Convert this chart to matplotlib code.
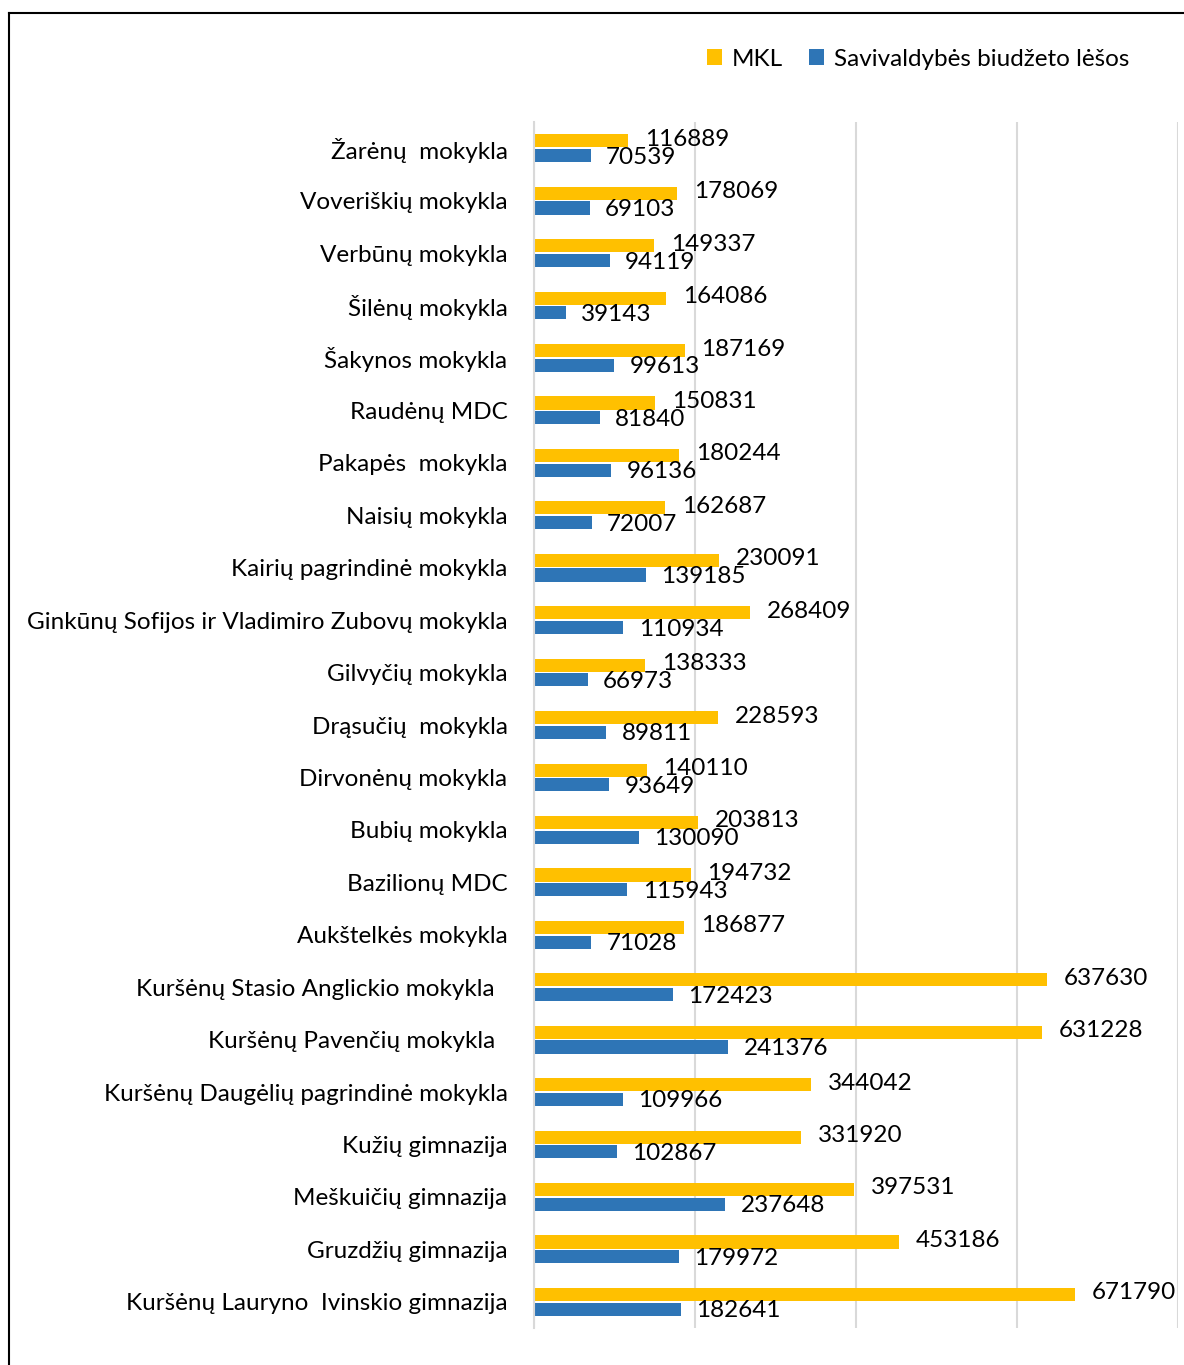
import numpy as np
import matplotlib.pyplot as plt
from matplotlib.lines import Line2D

plt.rcParams['font.family'] = ['Lato', 'DejaVu Sans']

schools = [
    "Žarėnų  mokykla", "Voveriškių mokykla", "Verbūnų mokykla", "Šilėnų mokykla",
    "Šakynos mokykla", "Raudėnų MDC", "Pakapės  mokykla", "Naisių mokykla",
    "Kairių pagrindinė mokykla", "Ginkūnų Sofijos ir Vladimiro Zubovų mokykla",
    "Gilvyčių mokykla", "Drąsučių  mokykla", "Dirvonėnų mokykla", "Bubių mokykla",
    "Bazilionų MDC", "Aukštelkės mokykla", "Kuršėnų Stasio Anglickio mokykla  ",
    "Kuršėnų Pavenčių mokykla  ", "Kuršėnų Daugėlių pagrindinė mokykla",
    "Kužių gimnazija", "Meškuičių gimnazija", "Gruzdžių gimnazija",
    "Kuršėnų Lauryno  Ivinskio gimnazija",
]
mkl = [116889, 178069, 149337, 164086, 187169, 150831, 180244, 162687, 230091, 268409,
       138333, 228593, 140110, 203813, 194732, 186877, 637630, 631228, 344042, 331920,
       397531, 453186, 671790]
budget = [70539, 69103, 94119, 39143, 99613, 81840, 96136, 72007, 139185, 110934,
          66973, 89811, 93649, 130090, 115943, 71028, 172423, 241376, 109966, 102867,
          237648, 179972, 182641]

yellow = '#FFC000'
blue = '#2E75B6'
fs = 17.5

fig = plt.figure(figsize=(11.84, 13.65), dpi=100)
ax = fig.add_axes([534 / 1184, 1 - 1328 / 1365, (1178 - 534) / 1184, (1328 - 122) / 1365])

y = np.arange(len(schools))[::-1]
h = 0.25
ax.barh(y + 0.14, mkl, height=h, color=yellow, label='MKL')
ax.barh(y - 0.14, budget, height=h, color=blue, label='Savivaldybės biudžeto lėšos')

for yi, v in zip(y, mkl):
    ax.annotate(str(v), (v, yi + 0.17), xytext=(12, 0), textcoords='offset points',
                va='center', ha='left', fontsize=fs)
for yi, v in zip(y, budget):
    ax.annotate(str(v), (v, yi - 0.17), xytext=(11, 0), textcoords='offset points',
                va='center', ha='left', fontsize=fs)

ax.set_xlim(0, 800000)
ax.set_ylim(-0.5, len(schools) - 0.5)
ax.set_xticks([0, 200000, 400000, 600000, 800000])
ax.tick_params(axis='x', length=0, labelbottom=False)
ax.grid(axis='x', color='#d9d9d9', linewidth=1.5)
ax.set_axisbelow(True)
for s in ['top', 'right', 'bottom']:
    ax.spines[s].set_visible(False)
ax.spines['left'].set_color('#d9d9d9')
ax.spines['left'].set_linewidth(1.5)
ax.set_yticks(y)
ax.set_yticklabels(schools, fontsize=fs)
ax.tick_params(axis='y', length=0, pad=19)

fig.legend(loc='center', bbox_to_anchor=(918 / 1184, 1 - 59 / 1365), ncol=2,
           frameon=False, fontsize=fs, handlelength=0.6, handleheight=0.6,
           handletextpad=0.4, columnspacing=1.1)

# outer frame (left and top edges visible)
fig.add_artist(Line2D([9 / 1184, 9 / 1184], [0, 1 - 13 / 1365], color='black', linewidth=1.5))
fig.add_artist(Line2D([9 / 1184, 1], [1 - 13 / 1365, 1 - 13 / 1365], color='black', linewidth=1.5))

plt.savefig('out.png', dpi=100)
